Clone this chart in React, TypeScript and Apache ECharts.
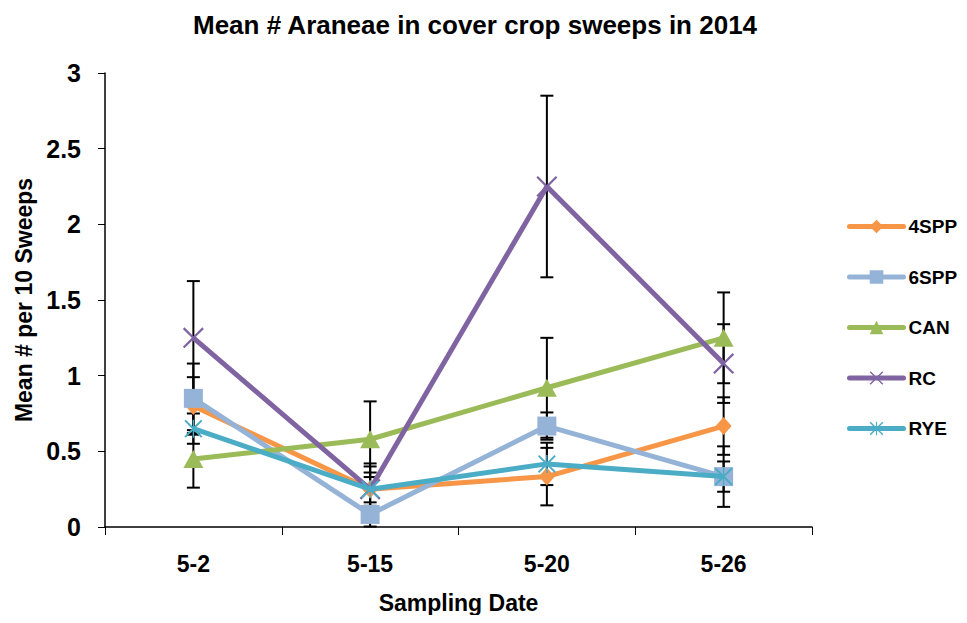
import React, { useEffect, useRef } from "react";
import * as echarts from "echarts";

const categories = ["5-2", "5-15", "5-20", "5-26"];
const yTicks = [0, 0.5, 1, 1.5, 2, 2.5, 3];

const names = ["4SPP", "6SPP", "CAN", "RC", "RYE"];
const s4SPP = [0.8, 0.25, 0.333, 0.667];
const s6SPP = [0.85, 0.083, 0.667, 0.333];
const sCAN = [0.45, 0.58, 0.92, 1.25];
const sRC = [1.25, 0.25, 2.25, 1.08];
const sRYE = [0.65, 0.25, 0.417, 0.333];

const e4SPP = [0.19, 0.17, 0.19, 0.19];
const e6SPP = [0.23, 0.08, 0.09, 0.2];
const eCAN = [0.19, 0.25, 0.33, 0.3];
const eRC = [0.375, 0.15, 0.6, 0.26];
const eRYE = [0.1, 0.11, 0.14, 0.1];

const colors = ["#F79646", "#95B3D7", "#9BBB59", "#8064A2", "#4BACC6"];

const X_PATH =
  "path://M0,1.5 L1.5,0 L10,8.5 L18.5,0 L20,1.5 L11.5,10 L20,18.5 L18.5,20 L10,11.5 L1.5,20 L0,18.5 L8.5,10 Z";
const STAR_PATH =
  "path://M0,1.5 L1.5,0 L10,8.5 L18.5,0 L20,1.5 L11.5,10 L20,18.5 L18.5,20 L10,11.5 L1.5,20 L0,18.5 L8.5,10 Z M9.2,0 L10.8,0 L10.8,20 L9.2,20 Z";

const FONT = "Liberation Sans";

export default function App() {
  const ref = useRef<HTMLDivElement>(null);
  useEffect(() => {
    if (!ref.current) return;
    const chart = echarts.init(ref.current, null, { renderer: "svg" });
    const values = [s4SPP, s6SPP, sCAN, sRC, sRYE];
    const errs = [e4SPP, e6SPP, eCAN, eRC, eRYE];
    const symbols = ["diamond", "rect", "triangle", X_PATH, STAR_PATH];
    const sizes: any[] = [[16, 18], 19, [20, 18], 21, 18];

    const errData: any[] = [];
    values.forEach((vals, si) => {
      vals.forEach((v, i) => {
        errData.push([i, Math.max(0, v - errs[si][i]), v + errs[si][i]]);
      });
    });

    const lineSeries = names.map((n, si) => ({
      name: n,
      type: "line",
      data: values[si],
      symbol: symbols[si],
      symbolSize: sizes[si],
      lineStyle: { color: colors[si], width: 5 },
      itemStyle: { color: colors[si] },
      z: 3 + si,
    }));

    const errSeries = {
      type: "custom",
      name: "err",
      data: errData,
      encode: { x: 0, y: [1, 2] },
      z: 2,
      silent: true,
      renderItem: (params: any, api: any) => {
        const x = api.value(0);
        const lo = api.coord([x, api.value(1)]);
        const hi = api.coord([x, api.value(2)]);
        const w = 6.5;
        const style = { stroke: "#000", lineWidth: 2 };
        return {
          type: "group",
          children: [
            { type: "line", shape: { x1: lo[0], y1: lo[1], x2: hi[0], y2: hi[1] }, style },
            { type: "line", shape: { x1: lo[0] - w, y1: lo[1], x2: lo[0] + w, y2: lo[1] }, style },
            { type: "line", shape: { x1: hi[0] - w, y1: hi[1], x2: hi[0] + w, y2: hi[1] }, style },
          ],
        };
      },
    };

    chart.setOption({
      animation: false,
      title: {
        text: "Mean # Araneae in cover crop sweeps in 2014",
        left: 470,
        textAlign: "center",
        top: 7,
        textStyle: { fontFamily: FONT, fontSize: 26, fontWeight: "bold", color: "#000" },
      },
      legend: {
        data: names,
        orient: "vertical",
        left: 842,
        top: 212,
        itemWidth: 54,
        itemHeight: 17,
        itemGap: 31.5,
        lineStyle: { width: 5, cap: "round" },
        textStyle: { fontFamily: FONT, fontSize: 19, fontWeight: "bold", color: "#000" },
      },
      grid: { left: 105, right: 155, top: 73, bottom: 96, containLabel: false },
      xAxis: {
        type: "category",
        data: categories,
        boundaryGap: true,
        name: "Sampling Date",
        nameLocation: "middle",
        nameGap: 64,
        nameTextStyle: { fontFamily: FONT, fontSize: 23, fontWeight: "bold", color: "#000" },
        axisLine: { lineStyle: { color: "#000", width: 1.5 } },
        axisTick: { show: true, alignWithLabel: false, length: 8, lineStyle: { color: "#000" } },
        axisLabel: { fontFamily: FONT, fontSize: 23, fontWeight: "bold", color: "#000", margin: 25 },
        splitLine: { show: false },
      },
      yAxis: {
        type: "value",
        min: yTicks[0],
        max: yTicks[yTicks.length - 1],
        interval: 0.5,
        name: "Mean # per 10 Sweeps",
        nameLocation: "middle",
        nameGap: 61,
        nameTextStyle: { fontFamily: FONT, fontSize: 23, fontWeight: "bold", color: "#000" },
        axisLine: { show: true, lineStyle: { color: "#000", width: 1.5 } },
        axisTick: { show: true, length: 7, lineStyle: { color: "#000" } },
        axisLabel: { fontFamily: FONT, fontSize: 25, fontWeight: "bold", color: "#000", margin: 24 },
        splitLine: { show: false },
      },
      series: [errSeries, ...lineSeries],
    });
    return () => chart.dispose();
  }, []);
  return <div ref={ref} style={{ width: 967, height: 623, margin: -8 }} />;
}
